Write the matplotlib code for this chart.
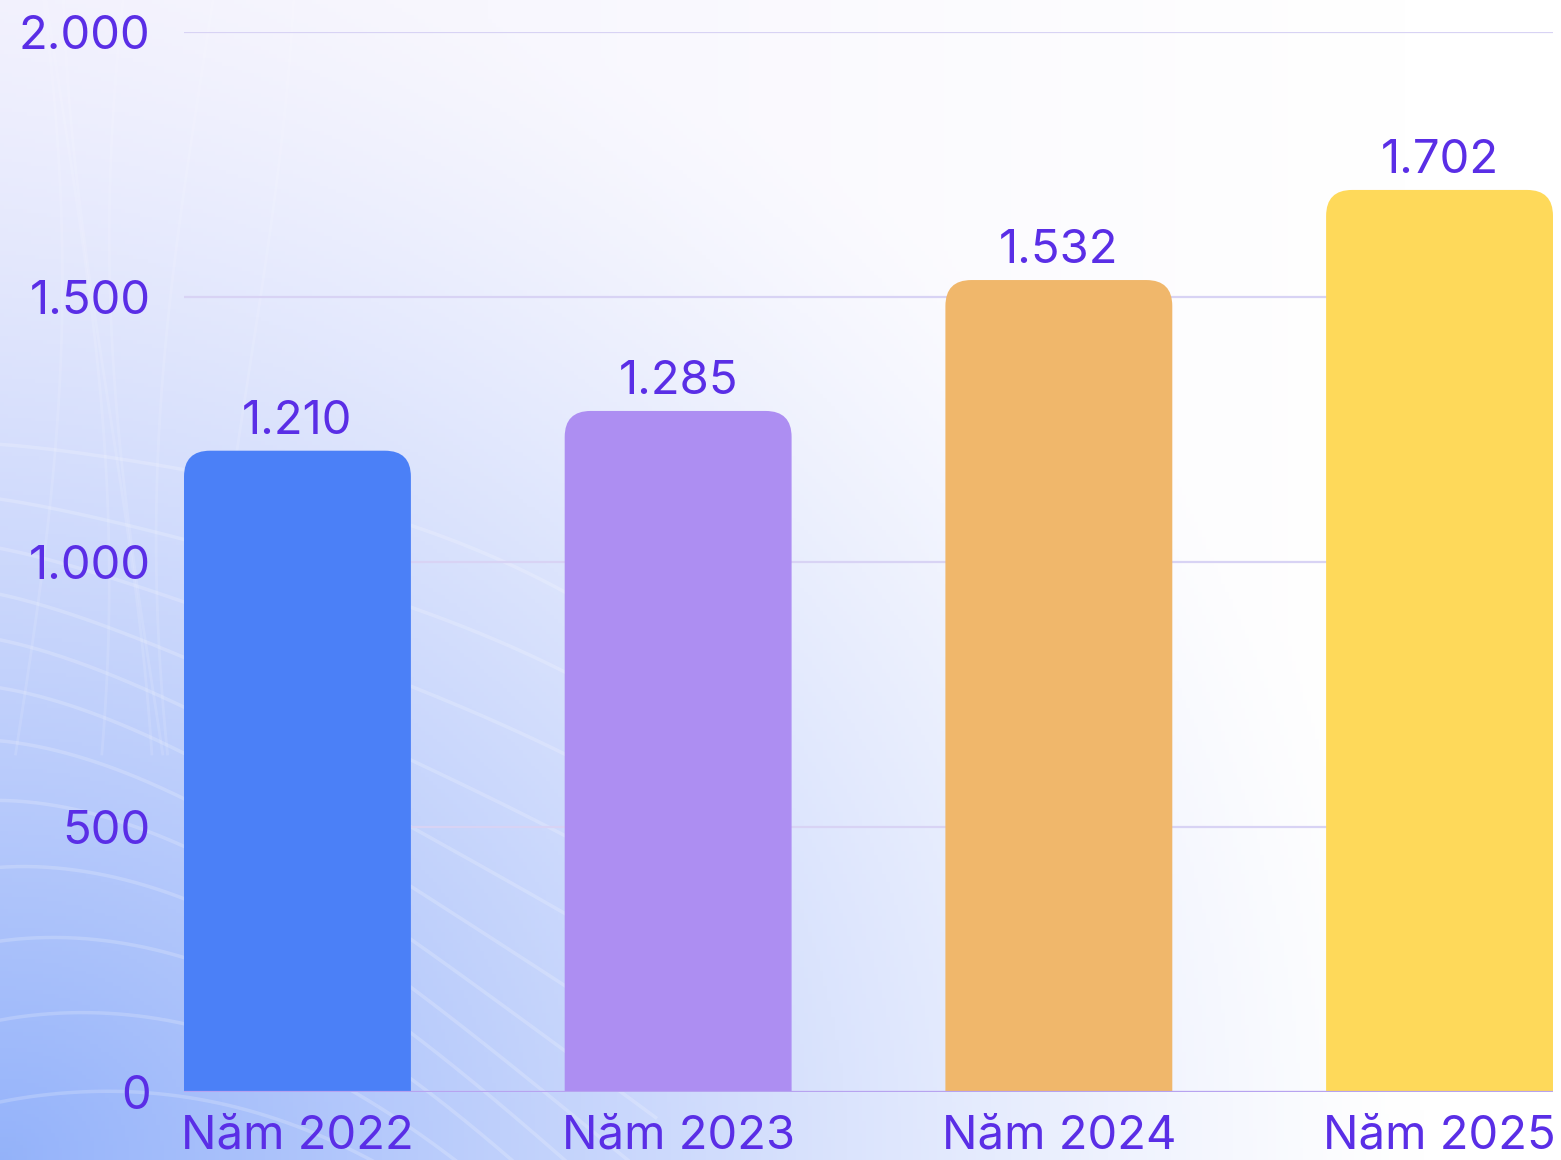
import numpy as np
import matplotlib
matplotlib.use("Agg")
import matplotlib.pyplot as plt
from matplotlib.patches import FancyBboxPatch

plt.rcParams['font.family'] = ['Inter', 'DejaVu Sans']

nam = ["Năm 2022", "Năm 2023", "Năm 2024", "Năm 2025"]
gia_tri = [1210, 1285, 1532, 1702]
mau = ["#4b80f7", "#ad8ef2", "#f0b76b", "#fed95a"]
nhan_y = [0, 500, 1000, 1500, 2000]

mau_chu = "#5a2ee6"
W, H = 1561, 1160

fig = plt.figure(figsize=(W / 100, H / 100), dpi=100)

# nen gradient
bg = fig.add_axes([0, 0, 1, 1], zorder=-10)
xx, yy = np.meshgrid(np.linspace(0, 1, 400), np.linspace(0, 1, 300))
d = np.sqrt((xx * 1.15) ** 2 + (yy * 1.0) ** 2)
t_xanh = np.clip(1 - d / 1.05, 0, 1) ** 1.3
t_tim = np.clip(1 - xx / 0.9, 0, 1) * 0.6
trang = np.array([1.0, 1.0, 1.0])
tim = np.array([0.93, 0.92, 0.99])
xanh = np.array([0.58, 0.70, 0.98])
img = trang[None, None, :] * (1 - t_tim[..., None]) + tim[None, None, :] * t_tim[..., None]
img = img * (1 - t_xanh[..., None]) + xanh[None, None, :] * t_xanh[..., None]
bg.imshow(img, origin="lower", extent=[0, 1, 0, 1], aspect="auto")
# duong song trang mo
s = np.linspace(0, 1, 200)
for k in range(12):
    c = 0.05 + k * 0.055
    x_line = s * 0.42
    y_line = c - 0.25 * s ** 1.8 + 0.04 * np.sin(s * 3 + k * 0.4)
    bg.plot(x_line, y_line, color="white", alpha=0.2, lw=2.5)
for k in range(6):
    c = 0.01 + k * 0.03
    y_line = 0.35 + 0.65 * s
    x_line = c + 0.03 * np.sin(s * 2.5 + k)
    bg.plot(x_line, y_line, color="white", alpha=0.12, lw=2)
bg.set_xlim(0, 1)
bg.set_ylim(0, 1)
bg.axis("off")

ax = fig.add_axes([184 / W, 68 / H, (1553 - 184) / W, (1092 - 32) / H])
ax.set_facecolor("none")

x = np.arange(len(nam))
rong = 0.596
bars = ax.bar(x, gia_tri, width=rong, color=mau)
ax.set_xlim(-rong / 2, len(nam) - 1 + rong / 2)
ax.set_ylim(0, 2000)

# bo goc tren cua cot
fig.canvas.draw()
p0 = ax.transData.transform((0, 0))
p1 = ax.transData.transform((1, 1))
ux = 1 / (p1[0] - p0[0])
uy = 1 / (p1[1] - p0[1])
r_px = 26
for b, c in zip(bars, mau):
    b.set_visible(False)
    fb = FancyBboxPatch((b.get_x(), -300), b.get_width(), b.get_height() + 300,
                        boxstyle="round,pad=0,rounding_size=%f" % (r_px * ux),
                        mutation_aspect=uy / ux, facecolor=c, edgecolor="none",
                        zorder=3, clip_on=True)
    ax.add_patch(fb)

for xi, v in zip(x, gia_tri):
    ax.annotate(f"{v:,}".replace(",", "."), (xi, v), xytext=(0, 5),
                textcoords="offset points", ha="center", va="bottom",
                fontsize=34, color=mau_chu)

ax.set_yticks(nhan_y)
ax.set_yticklabels([f"{v:,}".replace(",", ".") for v in nhan_y])
ax.set_xticks(x)
ax.set_xticklabels(nam)
ax.tick_params(axis="y", length=0, pad=24, labelsize=34, labelcolor=mau_chu)
ax.tick_params(axis="x", length=0, pad=16, labelsize=34, labelcolor=mau_chu)
ax.grid(axis="y", color="#d8d3f4", lw=1.6, zorder=0)
ax.set_axisbelow(True)
for sp in ax.spines.values():
    sp.set_visible(False)
ax.axhline(0, color="#b7a3f0", lw=1.6, zorder=4)

fig.savefig("out.png", dpi=100)
